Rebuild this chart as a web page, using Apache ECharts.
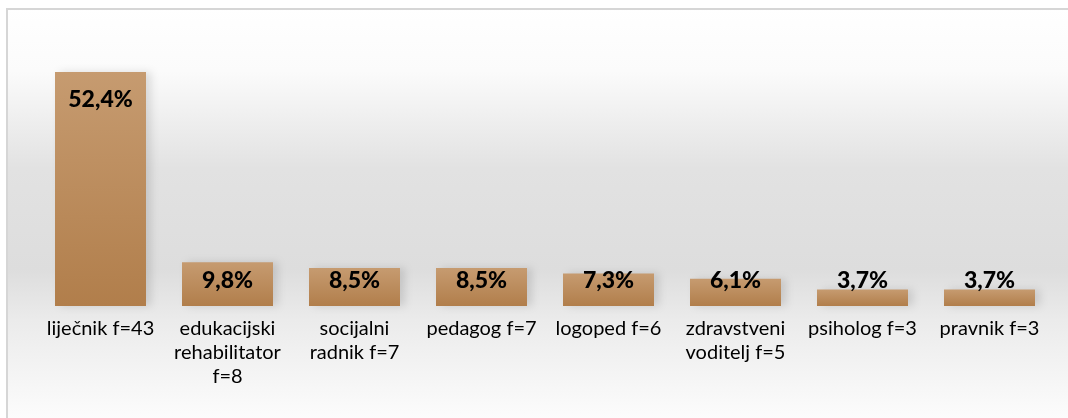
<!DOCTYPE html>
<html>
<head>
<meta charset="utf-8">
<script src="https://cdn.jsdelivr.net/npm/echarts@6/dist/echarts.min.js"></script>
<style>
  html, body { margin: 0; padding: 0; background: #fff; }
  #chart { width: 1068px; height: 418px; }
</style>
</head>
<body>
<div id="chart"></div>
<script>
// professions (with the line breaks used in the original)
const categories = [
  'liječnik f=43',
  'edukacijski\nrehabilitator\nf=8',
  'socijalni\nradnik f=7',
  'pedagog f=7',
  'logoped f=6',
  'zdravstveni\nvoditelj f=5',
  'psiholog f=3',
  'pravnik f=3'
];
// share of respondents, %
const percentages = [52.4, 9.8, 8.5, 8.5, 7.3, 6.1, 3.7, 3.7];

const chart = echarts.init(document.getElementById('chart'));

const barData = percentages.map((v, i) => {
  // tall bar: label at the top; short ones all sit at about the same height
  if (i === 0) return { value: v, label: { position: 'insideTop', distance: 16 } };
  return v;
});

const option = {
  backgroundColor: '#ffffff',
  animation: false,
  graphic: [
    {
      type: 'rect',
      silent: true,
      z: -10,
      shape: { x: 7, y: 9, width: 1070, height: 420 },
      style: {
        fill: {
          type: 'linear', x: 0, y: 0, x2: 0, y2: 1,
          colorStops: [
            { offset: 0, color: '#ffffff' },
            { offset: 0.15, color: '#fbfbfb' },
            { offset: 0.38, color: '#e2e2e2' },
            { offset: 0.62, color: '#dddddd' },
            { offset: 0.74, color: '#ebebeb' },
            { offset: 1, color: '#fefefe' }
          ]
        },
        stroke: '#d6d6d6',
        lineWidth: 2
      }
    }
  ],
  grid: { left: 37, right: 15, top: 38, bottom: 112 },
  xAxis: {
    type: 'category',
    data: categories,
    axisLine: { show: false },
    axisTick: { show: false },
    axisLabel: {
      interval: 0,
      margin: 11,
      color: '#000',
      fontFamily: 'Lato',
      fontSize: 20,
      lineHeight: 24
    }
  },
  yAxis: {
    type: 'value',
    min: 0,
    max: 60,
    show: false
  },
  series: [
    {
      type: 'bar',
      data: barData,
      barWidth: 91,
      itemStyle: {
        color: {
          type: 'linear', x: 0, y: 0, x2: 0, y2: 1,
          colorStops: [
            { offset: 0, color: '#c69b70' },
            { offset: 1, color: '#b17e4b' }
          ]
        },
        shadowColor: 'rgba(0,0,0,0.12)',
        shadowBlur: 8,
        shadowOffsetX: 5
      },
      label: {
        show: true,
        position: 'insideBottom',
        distance: 14,
        color: '#000',
        fontFamily: 'Lato',
        fontWeight: 900,
        fontSize: 23,
        formatter: p => p.value.toFixed(1).replace('.', ',') + '%'
      }
    }
  ]
};

chart.setOption(option);
</script>
</body>
</html>
